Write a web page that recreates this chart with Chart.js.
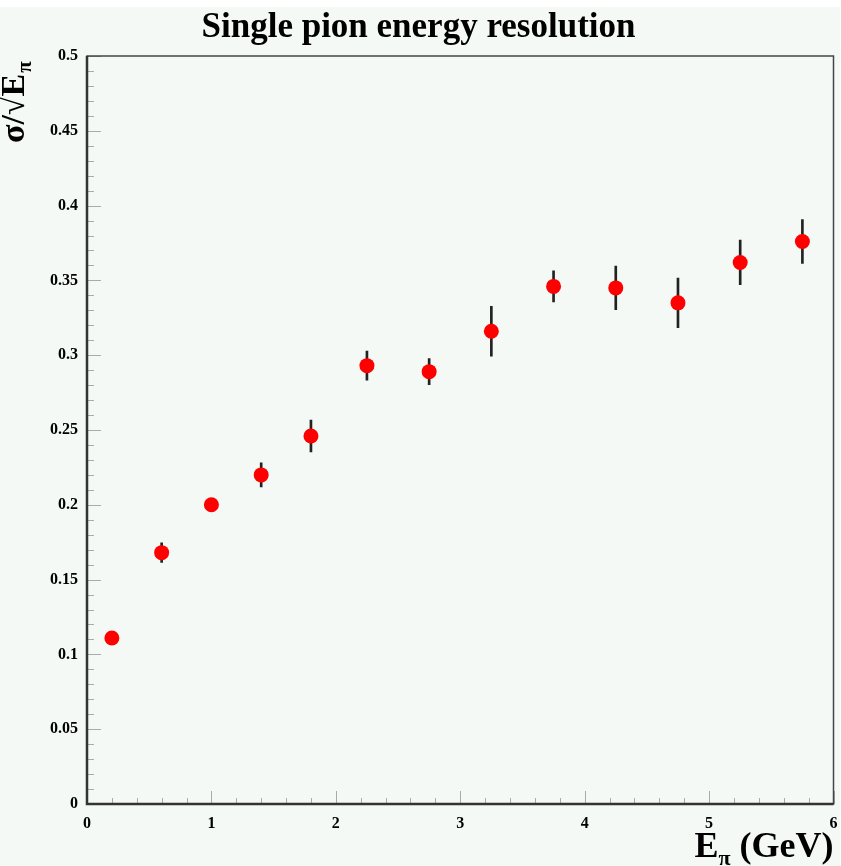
<!DOCTYPE html>
<html lang="en">

<head>
  <meta charset="UTF-8" />
  <script src="https://cdn.jsdelivr.net/npm/chart.js@4.4.0/dist/chart.umd.min.js"></script>
  <title>Single pion energy resolution</title>
  <style>
    body {
      margin: 0;
      background: #ffffff;
    }

    #grafico {
      display: block;
    }
  </style>
</head>

<body>
  <canvas id="grafico" width="841" height="866"></canvas>
</body>

</html>

<script>
  // pion energy (GeV), sigma/sqrt(E) and its error
  var energias = [0.2, 0.6, 1.0, 1.4, 1.8, 2.25, 2.75, 3.25, 3.75, 4.25, 4.75, 5.25, 5.75];
  var resolucao = [0.111, 0.168, 0.200, 0.220, 0.246, 0.293, 0.289, 0.316, 0.346, 0.345, 0.335, 0.362, 0.376];
  var erros = [0.003, 0.0065, 0.004, 0.008, 0.0107, 0.0097, 0.0087, 0.0167, 0.0104, 0.0146, 0.0166, 0.0149, 0.0146];

  var titulo = "Single pion energy resolution";
  var eixoX = { min: 0, max: 6, passo: 1, menor: 0.2 };
  var eixoY = { min: 0, max: 0.5, passo: 0.05, menor: 0.01 };

  var fonte = "'Liberation Serif', 'Times New Roman', serif";

  var pontos = [];
  var barrasErro = [];
  for (var i = 0; i < energias.length; i++) {
    pontos.push({ x: energias[i], y: resolucao[i] });
    barrasErro.push({ x: energias[i], y: [resolucao[i] - erros[i], resolucao[i] + erros[i]] });
  }

  const moldura = {
    id: "moldura",
    beforeDraw(chart) {
      var ctx = chart.ctx;
      ctx.save();
      ctx.fillStyle = "#f4f9f6";
      ctx.fillRect(0, 7, chart.width - 1, chart.height - 7);
      ctx.restore();
    },
    afterDatasetsDraw(chart) {
      var ctx = chart.ctx;
      var area = chart.chartArea;
      var sx = chart.scales.x;
      var sy = chart.scales.y;
      ctx.save();

      // ticks pointing into the plot
      ctx.strokeStyle = "#aaaaaa";
      ctx.lineWidth = 1;
      ctx.beginPath();
      for (var v = eixoX.min; v <= eixoX.max + 1e-9; v += eixoX.menor) {
        var px = Math.round(sx.getPixelForValue(v)) + 0.5;
        var maior = Math.abs(v - Math.round(v / eixoX.passo) * eixoX.passo) < 1e-6;
        ctx.moveTo(px, area.bottom);
        ctx.lineTo(px, area.bottom - (maior ? 13 : 6));
      }
      for (var w = eixoY.min; w <= eixoY.max + 1e-9; w += eixoY.menor) {
        var py = Math.round(sy.getPixelForValue(w)) + 0.5;
        var maiorY = Math.abs(w - Math.round(w / eixoY.passo) * eixoY.passo) < 1e-6;
        ctx.moveTo(area.left, py);
        ctx.lineTo(area.left + (maiorY ? 14 : 7), py);
      }
      ctx.stroke();

      // frame
      ctx.strokeStyle = "#444444";
      ctx.lineWidth = 1.5;
      ctx.strokeRect(area.left, area.top, area.right - area.left, area.bottom - area.top);
      ctx.strokeStyle = "#333333";
      ctx.lineWidth = 2.5;
      ctx.beginPath();
      ctx.moveTo(area.left, area.top);
      ctx.lineTo(area.left, area.bottom);
      ctx.lineTo(area.right, area.bottom);
      ctx.stroke();

      ctx.fillStyle = "#000000";

      // y title: sigma / sqrt(E) with pi subscript, rotated
      ctx.translate(24, 143);
      ctx.rotate(-Math.PI / 2);
      ctx.textAlign = "left";
      ctx.textBaseline = "alphabetic";
      ctx.font = "bold 34px " + fonte;
      ctx.fillText("σ/√E", 0, 0);
      var larg = ctx.measureText("σ/√E").width;
      ctx.font = "bold 21px " + fonte;
      ctx.fillText("π", larg + 1, 7);
      ctx.setTransform(1, 0, 0, 1, 0, 0);

      // x title: E_pi (GeV), right aligned to the frame
      ctx.font = "bold 36px " + fonte;
      var parte1 = ctx.measureText("E").width;
      var parte3 = ctx.measureText(" (GeV)").width;
      ctx.font = "bold 22px " + fonte;
      var parte2 = ctx.measureText("π").width;
      var inicio = area.right - (parte1 + parte2 + parte3);
      var base = 857;
      ctx.font = "bold 36px " + fonte;
      ctx.fillText("E", inicio, base);
      ctx.fillText(" (GeV)", inicio + parte1 + parte2, base);
      ctx.font = "bold 22px " + fonte;
      ctx.fillText("π", inicio + parte1, base + 8);

      ctx.restore();
    }
  };

  const config = {
    type: "scatter",
    data: {
      datasets: [
        {
          label: "resolucao",
          data: pontos,
          backgroundColor: "#ff0000",
          borderWidth: 0,
          pointRadius: 7.5,
          pointHoverRadius: 7.5,
          order: 0
        },
        {
          type: "bar",
          label: "erro",
          data: barrasErro,
          backgroundColor: "#222222",
          borderWidth: 0,
          barThickness: 2,
          order: 1
        }
      ]
    },
    options: {
      responsive: false,
      animation: false,
      events: [],
      layout: { padding: { left: 0, right: 4, top: 0, bottom: 0 } },
      plugins: {
        legend: { display: false },
        tooltip: { enabled: false },
        title: {
          display: true,
          text: titulo,
          color: "#000000",
          font: { family: fonte, size: 35, weight: "bold", lineHeight: 1.2 },
          padding: { top: 7, bottom: 7 }
        }
      },
      scales: {
        x: {
          type: "linear",
          min: eixoX.min,
          max: eixoX.max,
          offset: false,
          grid: { display: false, offset: false, drawTicks: false },
          border: { display: false },
          ticks: {
            stepSize: eixoX.passo,
            padding: 10,
            color: "#000000",
            maxRotation: 0,
            font: { family: fonte, size: 16, weight: "bold" }
          },
          afterFit: function (s) {
            s.height = 62;
            s.paddingLeft = 0;
            s.paddingRight = 0;
          }
        },
        y: {
          type: "linear",
          min: eixoY.min,
          max: eixoY.max,
          grid: { display: false, drawTicks: false },
          border: { display: false },
          ticks: {
            stepSize: eixoY.passo,
            padding: 9,
            color: "#000000",
            font: { family: fonte, size: 16, weight: "bold" },
            callback: function (valor) {
              return String(+valor.toFixed(2));
            }
          },
          afterFit: function (s) {
            s.width = 87;
            s.paddingTop = 0;
            s.paddingBottom = 0;
          }
        }
      }
    },
    plugins: [moldura]
  };

  var myChart = new Chart(document.getElementById("grafico"), config);
</script>
